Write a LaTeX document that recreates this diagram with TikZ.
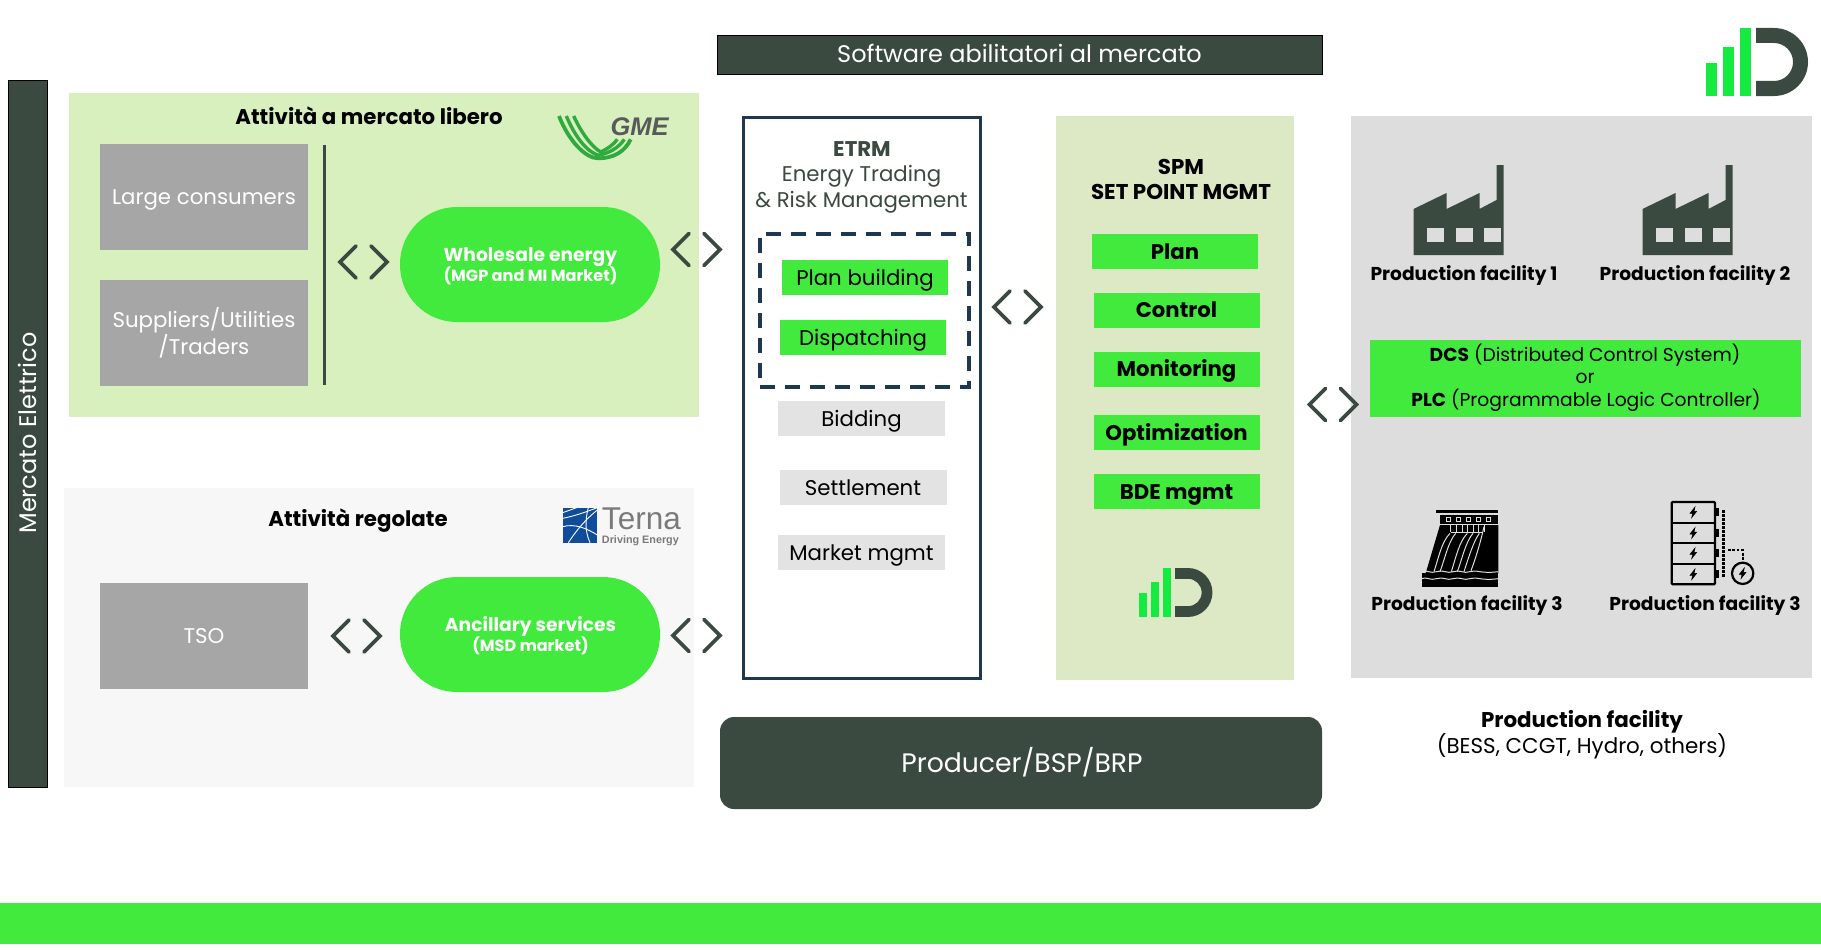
\documentclass[tikz,border=0pt]{standalone}
\usepackage{fontspec}
\usepackage{tikz}
\setmainfont{Poppins}
\newfontfamily\logofont{Liberation Sans}
\definecolor{darkgreen}{HTML}{3B4A40}
\definecolor{brightgreen}{HTML}{43EA3E}
\definecolor{logogreen}{HTML}{14EA3F}
\definecolor{freepanel}{HTML}{D8EFBE}
\definecolor{spmpanel}{HTML}{DDE9C4}
\definecolor{regpanel}{HTML}{F7F7F7}
\definecolor{plantpanel}{HTML}{DDDDDD}
\definecolor{actorgrey}{HTML}{A6A6A6}
\definecolor{taskgrey}{HTML}{E3E3E3}
\definecolor{navy}{HTML}{1F3852}
\definecolor{gmegreen}{HTML}{2EAA3E}
\definecolor{gmegrey}{HTML}{58595B}
\definecolor{ternablue}{HTML}{0F4C9C}
\definecolor{ternagrey}{HTML}{7A7A7A}
\tikzset{
  every node/.style = {inner sep=0pt, outer sep=0pt, align=center},
  panel/.style = {rectangle},
  oneline/.style = {text height=15.5pt, text depth=0pt},
  actor/.style = {rectangle, fill=actorgrey, text=white, minimum width=208pt, minimum height=106pt},
  actortext/.style = {text=white, font=\fontsize{21.3}{24}\selectfont},
  pill/.style = {rounded corners=57pt, fill=brightgreen, minimum width=260pt, minimum height=115pt},
  pilltext/.style = {text=white, font=\fontsize{18.7}{21}\selectfont\bfseries},
  task/.style = {rectangle, oneline, fill=brightgreen, font=\fontsize{21.3}{25}\selectfont, minimum width=166pt, minimum height=35pt},
  idle/.style = {rectangle, oneline, fill=taskgrey, font=\fontsize{21.3}{25}\selectfont, minimum width=167pt, minimum height=35pt},
  spmtask/.style = {task, font=\fontsize{21.2}{25}\selectfont\bfseries},
  head/.style = {font=\fontsize{21.3}{25}\selectfont\bfseries},
  plantlabel/.style = {font=\fontsize{18.65}{23}\selectfont\bfseries},
  dcstext/.style = {font=\fontsize{18.7}{23}\selectfont},
}
\newcommand{\chevronpair}[2]{
  \draw[darkgreen, line width=3.8pt, line cap=round] (#1-7.5,#2-16) -- (#1-23.5,#2) -- (#1-7.5,#2+16);
  \draw[darkgreen, line width=3.8pt, line cap=round] (#1+7.5,#2-16) -- (#1+23.5,#2) -- (#1+7.5,#2+16);
}
\newcommand{\factoryicon}[2]{
  \begin{scope}[shift={(#1,#2)}]
    \fill[darkgreen] (0,44) -- (33,28) -- (33,44) -- (66,28) -- (66,44) -- (83,35) -- (83,0) -- (90,0) -- (90,90) -- (0,90) -- cycle;
    \foreach \wx in {13,42,70}
      \fill[plantpanel] (\wx,63) rectangle (\wx+17,77);
  \end{scope}
}
\newcommand{\logomark}[3]{
  \begin{scope}[shift={(#1,#2)}, scale=#3]
    \fill[logogreen] (0,35) rectangle (11,68);
    \fill[logogreen] (17,19) rectangle (28,68);
    \fill[logogreen] (34,0) rectangle (45,68);
    \fill[darkgreen] (50,0) -- (68,0) arc[start angle=-90, end angle=90, radius=34] -- (50,68) -- (50,53) -- (68,53) arc[start angle=90, end angle=-90, radius=19] -- (50,15) -- cycle;
  \end{scope}
}
\newcommand{\boltshape}[2]{
  \filldraw[black, line width=.5pt] (#1+5,#2-16) -- (#1-10,#2+3) -- (#1-2,#2+3) -- (#1-5,#2+16) -- (#1+10,#2-3) -- (#1+2,#2-3) -- cycle;
}
\begin{document}
\begin{tikzpicture}[x=1pt, y=-1pt]
  \useasboundingbox (0,0) rectangle (1821,950);
  % bands and panels
  \node[panel, fill=brightgreen, minimum width=1821pt, minimum height=41pt] (footer) at (910.5,923.5) {};
  \node[panel, fill=darkgreen, draw=black, line width=.8pt, minimum width=39pt, minimum height=707pt] (market) at (27.5,433.5) {};
  \node[rotate=90, text=white, font=\fontsize{24}{28}\selectfont] (markettext) at (27,433) {Mercato Elettrico};
  \node[panel, fill=freepanel, minimum width=630pt, minimum height=324pt] (free) at (384,255) {};
  \node[panel, fill=regpanel, minimum width=630pt, minimum height=299pt] (regulated) at (379,637.5) {};
  \node[panel, fill=darkgreen, draw=black, line width=.8pt, minimum width=605pt, minimum height=39pt, text=white, font=\fontsize{24}{28}\selectfont, text depth=2pt] (software) at (1019.5,54.5) {Software abilitatori al mercato};
  \node[panel, fill=white, draw=navy, line width=3pt, minimum width=237pt, minimum height=561pt] (etrm) at (861.5,397.5) {};
  \node[panel, fill=spmpanel, minimum width=238pt, minimum height=564pt] (spm) at (1175,398) {};
  \node[panel, fill=plantpanel, minimum width=461pt, minimum height=562pt] (plant) at (1581.5,397) {};
  \node[panel, fill=darkgreen, rounded corners=14pt, minimum width=602pt, minimum height=92pt] (producer) at (1021,763) {};
  \node[text=white, font=\fontsize{26.7}{32}\selectfont] (producertext) at (1022,762) {Producer/BSP/BRP};

  % free market
  \node[head] (freetitle) at (369,116) {Attività a mercato libero};
  \node[actor] (large) at (204,197) {};
  \node[actortext, oneline] (largetext) at (204,197) {Large consumers};
  \node[actor] (suppliers) at (204,333) {};
  \node[actortext] (supplierstext) at (204,332.5) {Suppliers/Utilities\\/Traders};
  \draw[darkgreen, line width=3pt] (324,145) -- (324,385);
  \node[pill] (wholesale) at (530,264.5) {};
  \node[pilltext] (wholesaletext) at (530.5,266) {Wholesale energy\\[-1pt]{\fontsize{16.1}{18}\selectfont (MGP and MI Market)}};
  \chevronpair{363.5}{262}
  \chevronpair{696.5}{249.5}

  % regulated
  \node[head] (regtitle) at (358,521) {Attività regolate};
  \node[actor] (tso) at (204,636) {};
  \node[actortext, oneline] (tsotext) at (204,636) {TSO};
  \node[pill] (ancillary) at (530,634.5) {};
  \node[pilltext] (ancillarytext) at (530.5,635.5) {Ancillary services\\[-1pt]{\fontsize{16.1}{18}\selectfont (MSD market)}};
  \chevronpair{356.5}{636}
  \chevronpair{696.5}{635.5}

  % etrm
  \node[font=\fontsize{21.3}{25}\selectfont\bfseries, text=darkgreen] (etrmtitle) at (862,149) {ETRM};
  \node[font=\fontsize{21.3}{25.5}\selectfont, text=darkgreen] (etrmsub) at (861.5,189.5) {Energy Trading\\\& Risk Management};
  \node[draw=navy, dash pattern=on 15pt off 10pt, line width=3.2pt, minimum width=209pt, minimum height=153pt] (dashbox) at (864.5,310.5) {};
  \node[task] (planb) at (865,277.5) {Plan building};
  \node[task] (disp) at (863,337.5) {Dispatching};
  \node[idle] (bid) at (861.5,418.5) {Bidding};
  \node[idle] (settle) at (863,487.5) {Settlement};
  \node[idle] (mmgmt) at (861.5,552.5) {Market mgmt};
  \chevronpair{1017.5}{307}

  % spm
  \node[font=\fontsize{21.4}{25}\selectfont\bfseries] (spmtitle) at (1181,179.5) {SPM\\SET POINT MGMT};
  \foreach \name/\cx/\cy/\txt in {plan/1175/251.5/Plan, ctrl/1176.5/310/Control, moni/1176.5/369/Monitoring, opti/1176.5/432.5/Optimization, bde/1176.5/491.5/BDE mgmt}
    \node[spmtask] (\name) at (\cx,\cy) {\txt};
  \logomark{1139}{568}{.72}
  \chevronpair{1333}{404.5}

  % plants
  \factoryicon{1413.5}{165}
  \factoryicon{1642.5}{165}
  \node[plantlabel] (fac1) at (1464,275) {Production facility 1};
  \node[plantlabel] (fac2) at (1695,275) {Production facility 2};
  \node[rectangle, fill=brightgreen, minimum width=431pt, minimum height=77pt] (dcs) at (1585.5,378.5) {};
  \node[dcstext] (dcsline) at (1585,355) {\textbf{DCS} (Distributed Control System)};
  \node[dcstext] (orline) at (1585,378) {or};
  \node[dcstext] (plcline) at (1586,400) {\textbf{PLC} (Programmable Logic Controller)};
  \node[plantlabel] (fac3) at (1467,605) {Production facility 3};
  \node[plantlabel] (fac4) at (1705,605) {Production facility 3};
  \node[font=\fontsize{21.4}{26}\selectfont] (plantnote) at (1582,735) {\textbf{Production facility}\\(BESS, CCGT, Hydro, others)};

  % dam
  \begin{scope}[shift={(1410,500)}, x=.3333pt, y=-.3333pt]
    \fill[black] (77,30) rectangle (265,40);
    \fill[black] (90,44) rectangle (265,72);
    \foreach \wx in {115,145,175,205,235}
      \draw[plantpanel, line width=1pt] (\wx-6,51) rectangle (\wx+6,63);
    \fill[black] (90,75) -- (265,75) -- (265,220) -- (47,220) -- cycle;
    \foreach \wx in {122,139,156,172,189,205,222}
      \draw[plantpanel, line width=.9pt] (\wx,75) -- (\wx,97);
    \draw[plantpanel, line width=.9pt] (122,97) -- (218,97);
    \foreach \ox in {0,52}
      \draw[plantpanel, line width=1pt] (\ox+120,100) .. controls (\ox+95,125) and (\ox+85,175) .. (\ox+72,215) (\ox+137,100) .. controls (\ox+115,125) and (\ox+105,175) .. (\ox+90,215);
    \draw[plantpanel, line width=1pt] (208,100) .. controls (190,125) and (175,175) .. (162,215);
    \draw[plantpanel, line width=1pt] (222,80) .. controls (212,125) and (197,175) .. (183,212);
    \fill[black] (35,220) rectangle (265,260);
    \draw[plantpanel, line width=1pt] (35,215) .. controls (50,208) and (60,222) .. (80,215) .. controls (100,208) and (110,222) .. (130,215) .. controls (150,208) and (160,222) .. (180,215) .. controls (200,208) and (210,222) .. (265,215);
    \draw[plantpanel, line width=1pt] (35,236) .. controls (50,229) and (60,243) .. (80,236) .. controls (100,229) and (110,243) .. (130,236) .. controls (150,229) and (160,243) .. (180,236) .. controls (200,229) and (210,243) .. (265,236);
  \end{scope}

  % battery
  \begin{scope}[shift={(1660,495)}, x=.3333pt, y=-.3333pt]
    \draw[black, line width=2.2pt, rounded corners=1pt] (35,21) rectangle (165,268);
    \foreach \ly in {83,145,207}
      \draw[black, line width=2.2pt] (35,\ly) -- (165,\ly);
    \foreach \ly in {52,114,175,238} {
      \fill[black] (165,\ly-12) rectangle (178,\ly+12);
      \boltshape{100}{\ly}
    }
    \draw[black, line width=2.4pt, dash pattern=on 2.4pt off 1.6pt] (190,46) -- (190,248);
    \draw[black, line width=2pt, dash pattern=on 2.6pt off 1.8pt] (204,165) -- (248,165) -- (248,202);
    \draw[black, line width=2.2pt] (248,235) circle[radius=32];
    \boltshape{248}{235}
  \end{scope}

  % logos
  \logomark{1706}{28}{1}
  \begin{scope}[shift={(530,90)}, x=.3333pt, y=-.3333pt]
    \draw[gmegreen, line width=3.8pt] (87,78) .. controls (115,150) and (165,205) .. (205,205) .. controls (250,205) and (285,185) .. (302,148);
    \draw[gmegreen, line width=3.4pt] (109,78) .. controls (135,140) and (170,185) .. (205,196) .. controls (235,190) and (265,175) .. (283,148);
    \draw[gmegreen, line width=3.4pt] (131,78) .. controls (155,130) and (185,170) .. (212,186) .. controls (230,178) and (250,165) .. (262,148);
    \node[text=gmegrey, font=\logofont\fontsize{25.5}{28}\selectfont\bfseries\itshape] (gme) at (329,110) {GME};
  \end{scope}
  \begin{scope}[shift={(540,490)}, x=.3333pt, y=-.3333pt]
    \fill[ternablue] (68,53) rectangle (172,158);
    \draw[white, line width=.9pt] (68,85) .. controls (105,78) and (140,65) .. (172,53);
    \draw[white, line width=.9pt] (110,53) -- (68,68);
    \draw[white, line width=.9pt] (172,60) .. controls (135,90) and (110,120) .. (85,158);
    \draw[white, line width=.9pt] (68,110) .. controls (105,100) and (140,115) .. (172,135);
    \draw[white, line width=.9pt] (145,53) .. controls (135,90) and (135,125) .. (150,158);
    \node[text=ternagrey, font=\logofont\fontsize{31.5}{34}\selectfont, anchor=west, text depth=0pt] (terna) at (186,86) {Terna};
    \node[text=ternagrey, font=\logofont\fontsize{10.8}{13}\selectfont\bfseries, anchor=west, text height=8pt, text depth=0pt] (driving) at (186,150) {Driving Energy};
  \end{scope}
\end{tikzpicture}
\end{document}
